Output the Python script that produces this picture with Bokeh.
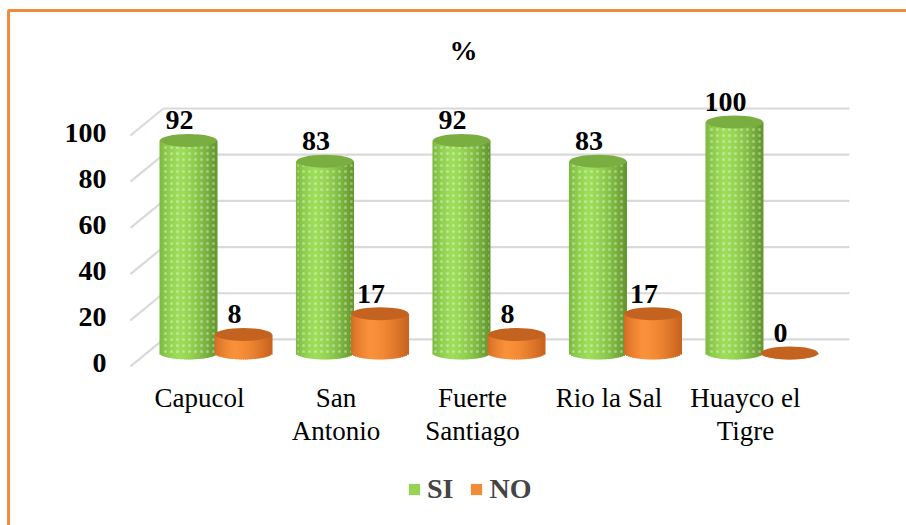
import numpy as np
from bokeh.plotting import figure
from bokeh.models import ColumnDataSource, Range1d, Legend, LegendItem
from bokeh.core.properties import value
from bokeh.embed import file_html
from bokeh.resources import INLINE

# ---- data -------------------------------------------------------------
categories = ["Capucol", "San\nAntonio", "Fuerte\nSantiago", "Rio la Sal", "Huayco el\nTigre"]
si_values = [92, 83, 92, 83, 100]
no_values = [8, 17, 8, 17, 0]
y_ticks = [0, 20, 40, 60, 80, 100]
series_names = ["SI", "NO"]
title_text = "%"

# ---- layout (x in category units, y in percent units) ------------------
X_RANGE = (-1.579, 5.059)
Y_RANGE = (-74.7, 152.6)
BAR_OFFSET = 0.2015      # SI left / NO right of the category centre
BAR_HALF = 0.209         # cylinder radius (x units)
CAP_HALF = 2.81          # half height of the elliptical caps (y units)
DEPTH_X = -0.242         # back wall -> front edge shift
DEPTH_Y = 11.7           # back wall -> front edge drop
WALL_LEFT = -0.385
WALL_RIGHT = 4.641
LABEL_DX = -0.066
LABEL_DY = 8.7
N_STRIPS = 28

FONT = "Times New Roman"

p = figure(width=906, height=525, output_backend="svg", toolbar_location=None,
           x_range=Range1d(*X_RANGE), y_range=Range1d(*Y_RANGE),
           x_axis_location=None, y_axis_location=None,
           min_border=0, min_border_left=0, min_border_right=0,
           min_border_top=0, min_border_bottom=0)
p.grid.visible = False
p.outline_line_color = None
p.background_fill_color = "white"
p.border_fill_color = "white"

# ---- chart border (top and left edges) ---------------------------------
BORDER_LEFT = -1.520
BORDER_TOP = 148.3
p.line(x=[BORDER_LEFT, BORDER_LEFT, X_RANGE[1]],
       y=[Y_RANGE[0], BORDER_TOP, BORDER_TOP],
       line_color="#F08A3E", line_width=3)

# ---- back wall gridlines with the receding floor edge ------------------
ticks = np.array(y_ticks, dtype=float)
p.segment(x0=[WALL_LEFT] * len(ticks), y0=ticks + DEPTH_Y / 2,
          x1=[WALL_RIGHT] * len(ticks), y1=ticks + DEPTH_Y / 2,
          line_color="#D9D9D9", line_width=2.2)
p.segment(x0=[WALL_LEFT] * len(ticks), y0=ticks + DEPTH_Y / 2,
          x1=[WALL_LEFT + DEPTH_X] * len(ticks), y1=ticks - DEPTH_Y / 2,
          line_color="#D9D9D9", line_width=2.2)

# value axis labels
p.text(x=[-0.802] * len(ticks), y=ticks - DEPTH_Y / 2 + 1.3,
       text=[str(t) for t in y_ticks],
       text_font=value(FONT), text_font_style="bold", text_font_size="28px",
       text_align="right", text_baseline="middle", text_color="black")


def lerp(c0, c1, f):
    return tuple(int(round(a + (b - a) * f)) for a, b in zip(c0, c1))


def shade(t, left, mid, right, peak=-0.35):
    if t <= peak:
        f = ((t + 1) / (peak + 1)) ** 0.6
        c = lerp(left, mid, f)
    else:
        f = ((t - peak) / (1 - peak)) ** 1.6
        c = lerp(mid, right, f)
    return "#%02x%02x%02x" % c


def cylinders(values, offset, left, mid, right, cap, dotted):
    centres = np.arange(len(values)) + offset
    ts = -1 + (2 * np.arange(N_STRIPS) + 1) / N_STRIPS
    xs, tops, bottoms, colors = [], [], [], []
    for cx, v in zip(centres, values):
        for t in ts:
            xs.append(cx + t * BAR_HALF)
            tops.append(v)
            bottoms.append(-CAP_HALF * np.sqrt(max(0.0, 1 - t * t)))
            colors.append(shade(t, left, mid, right))
    src = ColumnDataSource(dict(x=xs, top=tops, bottom=bottoms, color=colors))
    # overlapping shaded strips give the rounded body
    r = p.vbar(x="x", top="top", bottom="bottom", width=2 * BAR_HALF / N_STRIPS * 1.5,
               fill_color="color", line_color=None, source=src)
    renderers = [r]
    if dotted:
        # fine white dot texture laid over the whole cylinder body
        rh = p.vbar(x=centres, top=values, bottom=0, width=2 * BAR_HALF * 0.97,
                    fill_alpha=0, line_color=None,
                    hatch_pattern="dot", hatch_color="white", hatch_alpha=0.35,
                    hatch_scale=6, hatch_weight=0.8)
        renderers.append(rh)
    p.ellipse(x=centres, y=values, width=2 * BAR_HALF, height=2 * CAP_HALF,
              fill_color=cap, line_color=None)
    return renderers, centres


si_r, si_x = cylinders(si_values, -BAR_OFFSET,
                       (118, 178, 58), (158, 222, 90), (98, 150, 46),
                       "#7AAE40", True)
no_r, no_x = cylinders(no_values, BAR_OFFSET,
                       (205, 102, 32), (250, 145, 58), (200, 98, 30),
                       "#C4631F", False)

# data labels
for xs_, vals in ((si_x, si_values), (no_x, no_values)):
    p.text(x=xs_ + LABEL_DX, y=np.array(vals, dtype=float) + LABEL_DY,
           text=[str(v) for v in vals],
           text_font=value(FONT), text_font_style="bold", text_font_size="28px",
           text_align="center", text_baseline="middle", text_color="black")

# category labels along the front edge
p.text(x=np.arange(len(categories)) + DEPTH_X / 2, y=[-13.2] * len(categories),
       text=categories, text_font=value(FONT), text_font_size="27px",
       text_align="center", text_baseline="top", text_color="black",
       text_line_height=1.1)

# title
p.text(x=[1.813], y=[131.0], text=[title_text],
       text_font=value(FONT), text_font_style="bold", text_font_size="28px",
       text_align="center", text_baseline="middle", text_color="black")

legend = Legend(items=[LegendItem(label=series_names[0], renderers=si_r, index=N_STRIPS // 2),
                       LegendItem(label=series_names[1], renderers=no_r, index=N_STRIPS // 2)],
                location=(407, 20), orientation="horizontal",
                label_text_font=FONT, label_text_font_style="bold",
                label_text_font_size="28px", label_standoff=6, spacing=16,
                glyph_width=14, glyph_height=14, label_height=30,
                padding=0, margin=0, border_line_color=None,
                background_fill_alpha=0)
p.add_layout(legend, "center")

open("out.html", "w").write(file_html(p, INLINE))
